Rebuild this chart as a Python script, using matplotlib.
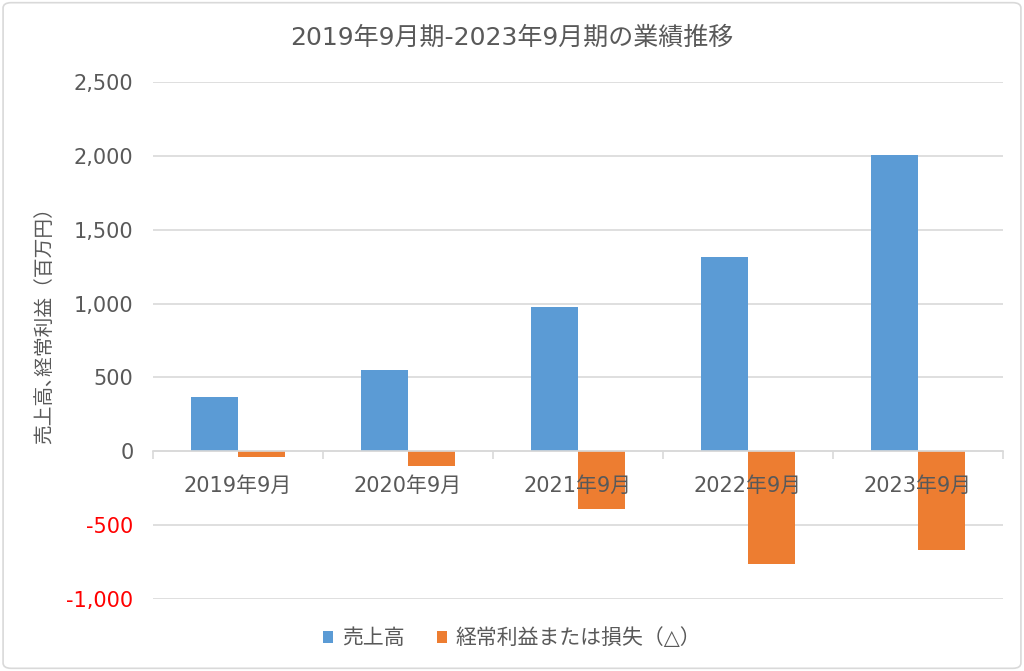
import matplotlib
matplotlib.use("Agg")
import matplotlib.pyplot as plt
from matplotlib.patches import FancyBboxPatch
from matplotlib.ticker import FuncFormatter, FixedLocator
import numpy as np

plt.rcParams['font.family'] = ['DejaVu Sans', 'Noto Sans CJK JP']

categories = ["2019年9月", "2020年9月", "2021年9月", "2022年9月", "2023年9月"]
sales = [366, 549, 978, 1314, 2005]
ordinary_profit = [-39, -102, -388, -761, -666]
series_names = ["売上高", "経常利益または損失（△）"]
title = "2019年9月期-2023年9月期の業績推移"
ylabel = "売上高､経常利益（百万円）"

BLUE = "#5B9BD5"
ORANGE = "#ED7D31"
GRAY = "#595959"
GRID = "#D9D9D9"

fig = plt.figure(figsize=(10.24, 6.71), dpi=100)
ax = fig.add_axes([153/1024, (671-599)/671, 850/1024, 517/671])

x = np.arange(len(categories))
w = 0.277
ax.bar(x - w/2, sales, width=w, color=BLUE, label=series_names[0], zorder=3)
ax.bar(x + w/2, ordinary_profit, width=w, color=ORANGE, label=series_names[1], zorder=3)

ax.set_xlim(-0.5, len(categories) - 0.5)
ax.set_ylim(-1000, 2500)
ax.set_yticks(np.arange(-1000, 2501, 500))
ax.yaxis.set_major_formatter(FuncFormatter(lambda v, p: f"{int(v):,}"))
ax.grid(axis='y', color=GRID, linewidth=1.2, zorder=0)
ax.tick_params(axis='y', length=0, pad=14, labelsize=15, labelcolor=GRAY)
for lbl, v in zip(ax.get_yticklabels(), ax.get_yticks()):
    if v < 0:
        lbl.set_color("#FF0000")

for s in ['top', 'right', 'left']:
    ax.spines[s].set_visible(False)
ax.spines['bottom'].set_position(('data', 0))
ax.spines['bottom'].set_color(GRID)
ax.spines['bottom'].set_linewidth(1.2)
ax.spines['bottom'].set_zorder(4)

ax.xaxis.set_major_locator(FixedLocator(np.arange(-0.5, len(categories), 1.0)))
ax.xaxis.set_minor_locator(FixedLocator(x))
ax.set_xticklabels([], minor=False)
ax.set_xticklabels(categories, minor=True)
ax.tick_params(axis='x', which='major', length=6, color=GRID, width=1.2)
ax.tick_params(axis='x', which='minor', length=0, pad=18, labelsize=15, labelcolor=GRAY)
ax.xaxis.set_zorder(5)

fig.text(0.5, 1 - 38/671, title, ha='center', va='center', fontsize=18, color=GRAY)
fig.text(45/1024, 1 - 321/671, ylabel, ha='center', va='center', rotation=90,
         fontsize=14.2, color=GRAY)

leg = fig.legend(loc='center', bbox_to_anchor=(0.5, 1 - 638/671), ncol=2, frameon=False,
                 fontsize=15, handlelength=0.5, handleheight=0.5, columnspacing=1.55,
                 handletextpad=0.4)
for t in leg.get_texts():
    t.set_color(GRAY)

border = FancyBboxPatch((0.003, 0.004), 0.994, 0.992, boxstyle="round,pad=0,rounding_size=0.008",
                        transform=fig.transFigure, facecolor='none', edgecolor=GRID,
                        linewidth=1.2)
fig.patches.append(border)

fig.savefig("out.png", dpi=100, facecolor='white')
